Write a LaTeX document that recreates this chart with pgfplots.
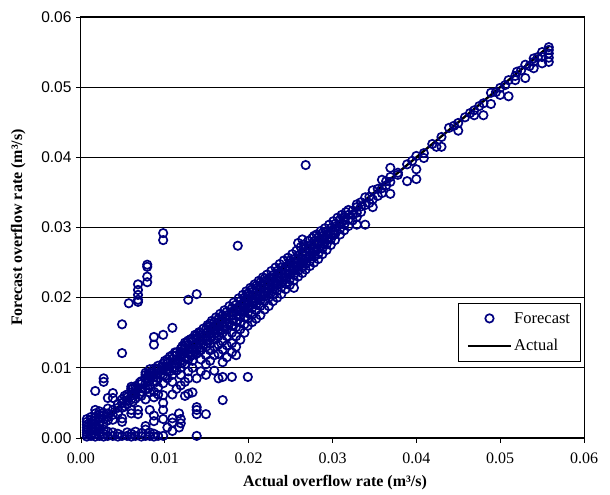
\documentclass[border=0pt]{standalone}
\usepackage{fontspec}
\setmainfont{Liberation Serif}
\newfontfamily\arialfont{Liberation Sans}
\usepackage{pgfplots}
\pgfplotsset{compat=1.18}
\usepackage{pgfplotstable}
\definecolor{navy}{RGB}{0,0,128}

% forecast vs. actual overflow rate (m^3/s)
\pgfplotstableread[row sep=\\]{
x y\\
0.0007 0.0002\\ 0.0007 0.0005\\ 0.0007 0.0008\\ 0.0007 0.0011\\ 0.0007 0.0015\\ 0.0007 0.0019\\ 0.0007 0.0023\\ 0.0007 0.0027\\
0.0012 0.0003\\ 0.0012 0.0006\\ 0.0012 0.0010\\ 0.0012 0.0014\\ 0.0012 0.0018\\ 0.0012 0.0022\\ 0.0012 0.0026\\ 0.0012 0.0030\\
0.0017 0.0002\\ 0.0017 0.0006\\ 0.0017 0.0010\\ 0.0017 0.0015\\ 0.0017 0.0020\\ 0.0017 0.0025\\ 0.0017 0.0030\\ 0.0017 0.0035\\ 0.0017 0.0040\\ 0.0017 0.0067\\
0.0022 0.0003\\ 0.0022 0.0008\\ 0.0022 0.0013\\ 0.0022 0.0018\\ 0.0022 0.0023\\ 0.0022 0.0028\\ 0.0022 0.0033\\ 0.0022 0.0038\\
0.0027 0.0002\\ 0.0027 0.0006\\ 0.0027 0.0012\\ 0.0027 0.0020\\ 0.0027 0.0027\\ 0.0027 0.0032\\ 0.0027 0.0036\\ 0.0027 0.0080\\ 0.0027 0.0085\\
0.0032 0.0003\\ 0.0032 0.0009\\ 0.0032 0.0025\\ 0.0032 0.0030\\ 0.0032 0.0035\\ 0.0032 0.0042\\ 0.0032 0.0057\\
0.0038 0.0003\\ 0.0038 0.0008\\ 0.0038 0.0026\\ 0.0038 0.0033\\ 0.0038 0.0040\\ 0.0038 0.0057\\ 0.0038 0.0064\\
0.0044 0.0002\\ 0.0044 0.0006\\ 0.0044 0.0035\\ 0.0044 0.0043\\ 0.0044 0.0048\\
0.0049 0.0003\\ 0.0049 0.0023\\ 0.0049 0.0028\\ 0.0049 0.0043\\ 0.0049 0.0050\\ 0.0049 0.0055\\ 0.0049 0.0121\\ 0.0049 0.0162\\
0.0052 0.0060\\ 0.0052 0.0045\\
0.0055 0.0003\\ 0.0055 0.0008\\ 0.0055 0.0048\\ 0.0055 0.0053\\ 0.0055 0.0058\\ 0.0055 0.0062\\ 0.0057 0.0192\\
0.0060 0.0002\\ 0.0060 0.0006\\ 0.0060 0.0035\\ 0.0060 0.0040\\ 0.0060 0.0055\\ 0.0060 0.0060\\ 0.0060 0.0065\\ 0.0060 0.0070\\ 0.0060 0.0073\\
0.0062 0.0071\\ 0.0062 0.0052\\
0.0065 0.0003\\ 0.0065 0.0009\\ 0.0065 0.0056\\ 0.0065 0.0062\\ 0.0065 0.0068\\ 0.0065 0.0074\\
0.0068 0.0034\\ 0.0068 0.0040\\ 0.0068 0.0194\\ 0.0068 0.0197\\ 0.0068 0.0204\\ 0.0068 0.0211\\ 0.0068 0.0219\\
0.0070 0.0079\\ 0.0070 0.0062\\
0.0072 0.0002\\ 0.0072 0.0007\\ 0.0072 0.0060\\ 0.0072 0.0066\\ 0.0072 0.0071\\ 0.0072 0.0077\\ 0.0072 0.0081\\
0.0077 0.0003\\ 0.0077 0.0012\\ 0.0077 0.0017\\ 0.0077 0.0055\\ 0.0077 0.0070\\ 0.0077 0.0078\\ 0.0077 0.0085\\ 0.0077 0.0090\\ 0.0077 0.0093\\
0.0079 0.0222\\ 0.0079 0.0230\\ 0.0079 0.0244\\ 0.0079 0.0247\\
0.0080 0.0090\\ 0.0080 0.0070\\
0.0082 0.0003\\ 0.0082 0.0008\\ 0.0082 0.0040\\ 0.0082 0.0065\\ 0.0082 0.0075\\ 0.0082 0.0082\\ 0.0082 0.0088\\ 0.0082 0.0093\\ 0.0082 0.0098\\
0.0087 0.0002\\ 0.0087 0.0006\\ 0.0087 0.0024\\ 0.0087 0.0032\\ 0.0087 0.0058\\ 0.0087 0.0066\\ 0.0087 0.0080\\ 0.0087 0.0087\\ 0.0087 0.0093\\ 0.0087 0.0099\\ 0.0087 0.0133\\ 0.0087 0.0144\\
0.0090 0.0099\\ 0.0090 0.0080\\
0.0092 0.0003\\ 0.0092 0.0062\\ 0.0092 0.0072\\ 0.0092 0.0085\\ 0.0092 0.0092\\ 0.0092 0.0098\\ 0.0092 0.0103\\
0.0098 0.0003\\ 0.0098 0.0027\\ 0.0098 0.0040\\ 0.0098 0.0050\\ 0.0098 0.0061\\ 0.0098 0.0078\\ 0.0098 0.0090\\ 0.0098 0.0097\\ 0.0098 0.0102\\ 0.0098 0.0106\\ 0.0098 0.0147\\ 0.0098 0.0282\\ 0.0098 0.0292\\
0.0100 0.0110\\ 0.0100 0.0088\\
0.0103 0.0015\\ 0.0103 0.0085\\ 0.0103 0.0095\\ 0.0103 0.0102\\ 0.0103 0.0108\\ 0.0103 0.0112\\
0.0106 0.0116\\ 0.0106 0.0095\\
0.0109 0.0010\\ 0.0109 0.0022\\ 0.0109 0.0028\\ 0.0109 0.0062\\ 0.0109 0.0080\\ 0.0109 0.0090\\ 0.0109 0.0100\\ 0.0109 0.0107\\ 0.0109 0.0113\\ 0.0109 0.0118\\ 0.0109 0.0157\\
0.0112 0.0122\\ 0.0112 0.0100\\
0.0114 0.0070\\ 0.0114 0.0096\\ 0.0114 0.0105\\ 0.0114 0.0112\\ 0.0114 0.0118\\ 0.0114 0.0122\\
0.0117 0.0015\\ 0.0117 0.0035\\
0.0119 0.0021\\ 0.0119 0.0027\\ 0.0119 0.0075\\ 0.0119 0.0090\\ 0.0119 0.0100\\ 0.0119 0.0110\\ 0.0119 0.0117\\ 0.0119 0.0123\\ 0.0119 0.0127\\
0.0121 0.0131\\ 0.0121 0.0108\\
0.0124 0.0060\\ 0.0124 0.0080\\ 0.0124 0.0105\\ 0.0124 0.0115\\ 0.0124 0.0122\\ 0.0124 0.0128\\ 0.0124 0.0132\\ 0.0124 0.0136\\
0.0126 0.0136\\ 0.0126 0.0113\\
0.0128 0.0063\\ 0.0128 0.0085\\ 0.0128 0.0095\\ 0.0128 0.0112\\ 0.0128 0.0120\\ 0.0128 0.0127\\ 0.0128 0.0133\\ 0.0128 0.0139\\ 0.0128 0.0197\\
0.0131 0.0141\\ 0.0131 0.0118\\
0.0133 0.0065\\ 0.0133 0.0100\\ 0.0133 0.0110\\ 0.0133 0.0118\\ 0.0133 0.0125\\ 0.0133 0.0132\\ 0.0133 0.0137\\ 0.0133 0.0142\\
0.0136 0.0147\\ 0.0136 0.0123\\
0.0138 0.0003\\ 0.0138 0.0034\\ 0.0138 0.0040\\ 0.0138 0.0044\\ 0.0138 0.0085\\ 0.0138 0.0120\\ 0.0138 0.0128\\ 0.0138 0.0135\\ 0.0138 0.0141\\ 0.0138 0.0146\\ 0.0138 0.0205\\
0.0141 0.0151\\ 0.0141 0.0128\\
0.0143 0.0095\\ 0.0143 0.0112\\ 0.0143 0.0125\\ 0.0143 0.0133\\ 0.0143 0.0140\\ 0.0143 0.0146\\ 0.0143 0.0150\\
0.0146 0.0156\\ 0.0146 0.0133\\
0.0149 0.0034\\ 0.0149 0.0090\\ 0.0149 0.0105\\ 0.0149 0.0118\\ 0.0149 0.0130\\ 0.0149 0.0138\\ 0.0149 0.0145\\ 0.0149 0.0150\\ 0.0149 0.0155\\
0.0151 0.0161\\ 0.0151 0.0139\\
0.0154 0.0110\\ 0.0154 0.0125\\ 0.0154 0.0135\\ 0.0154 0.0143\\ 0.0154 0.0150\\ 0.0154 0.0155\\ 0.0154 0.0159\\ 0.0154 0.0163\\
0.0156 0.0167\\ 0.0156 0.0144\\
0.0159 0.0096\\ 0.0159 0.0118\\ 0.0159 0.0130\\ 0.0159 0.0140\\ 0.0159 0.0148\\ 0.0159 0.0155\\ 0.0159 0.0160\\ 0.0159 0.0165\\
0.0161 0.0172\\ 0.0161 0.0149\\
0.0164 0.0085\\ 0.0164 0.0120\\ 0.0164 0.0133\\ 0.0164 0.0145\\ 0.0164 0.0153\\ 0.0164 0.0160\\ 0.0164 0.0165\\ 0.0164 0.0170\\
0.0166 0.0177\\ 0.0166 0.0153\\
0.0169 0.0054\\ 0.0169 0.0087\\ 0.0169 0.0108\\ 0.0169 0.0126\\ 0.0169 0.0138\\ 0.0169 0.0150\\ 0.0169 0.0158\\ 0.0169 0.0165\\ 0.0169 0.0170\\ 0.0169 0.0175\\
0.0171 0.0182\\ 0.0171 0.0158\\
0.0174 0.0115\\ 0.0174 0.0132\\ 0.0174 0.0145\\ 0.0174 0.0155\\ 0.0174 0.0163\\ 0.0174 0.0170\\ 0.0174 0.0175\\ 0.0174 0.0180\\
0.0177 0.0188\\ 0.0177 0.0164\\
0.0180 0.0087\\ 0.0180 0.0122\\ 0.0180 0.0135\\ 0.0180 0.0150\\ 0.0180 0.0160\\ 0.0180 0.0168\\ 0.0180 0.0175\\ 0.0180 0.0180\\ 0.0180 0.0185\\
0.0182 0.0193\\ 0.0182 0.0169\\
0.0185 0.0118\\ 0.0185 0.0130\\ 0.0185 0.0145\\ 0.0185 0.0158\\ 0.0185 0.0166\\ 0.0185 0.0174\\ 0.0185 0.0180\\ 0.0185 0.0185\\ 0.0185 0.0190\\
0.0187 0.0274\\
0.0188 0.0199\\ 0.0188 0.0175\\
0.0190 0.0140\\ 0.0190 0.0155\\ 0.0190 0.0165\\ 0.0190 0.0173\\ 0.0190 0.0180\\ 0.0190 0.0186\\ 0.0190 0.0190\\ 0.0190 0.0195\\
0.0193 0.0204\\ 0.0193 0.0180\\
0.0195 0.0150\\ 0.0195 0.0162\\ 0.0195 0.0172\\ 0.0195 0.0180\\ 0.0195 0.0186\\ 0.0195 0.0192\\ 0.0195 0.0196\\ 0.0195 0.0200\\
0.0197 0.0209\\ 0.0197 0.0184\\
0.0199 0.0087\\ 0.0199 0.0160\\ 0.0199 0.0170\\ 0.0199 0.0178\\ 0.0199 0.0186\\ 0.0199 0.0192\\ 0.0199 0.0197\\ 0.0199 0.0202\\ 0.0199 0.0206\\
0.0202 0.0214\\ 0.0202 0.0189\\
0.0204 0.0165\\ 0.0204 0.0176\\ 0.0204 0.0185\\ 0.0204 0.0193\\ 0.0204 0.0198\\ 0.0204 0.0203\\ 0.0204 0.0208\\ 0.0204 0.0212\\
0.0207 0.0219\\ 0.0207 0.0194\\
0.0209 0.0170\\ 0.0209 0.0182\\ 0.0209 0.0190\\ 0.0209 0.0198\\ 0.0209 0.0203\\ 0.0209 0.0208\\ 0.0209 0.0213\\ 0.0209 0.0217\\
0.0212 0.0224\\ 0.0212 0.0199\\
0.0214 0.0175\\ 0.0214 0.0188\\ 0.0214 0.0196\\ 0.0214 0.0203\\ 0.0214 0.0208\\ 0.0214 0.0213\\ 0.0214 0.0218\\ 0.0214 0.0222\\
0.0217 0.0229\\ 0.0217 0.0204\\
0.0219 0.0183\\ 0.0219 0.0195\\ 0.0219 0.0202\\ 0.0219 0.0208\\ 0.0219 0.0213\\ 0.0219 0.0218\\ 0.0219 0.0223\\ 0.0219 0.0227\\
0.0222 0.0233\\ 0.0222 0.0209\\
0.0224 0.0188\\ 0.0224 0.0200\\ 0.0224 0.0207\\ 0.0224 0.0213\\ 0.0224 0.0218\\ 0.0224 0.0223\\ 0.0224 0.0228\\
0.0227 0.0238\\ 0.0227 0.0214\\
0.0229 0.0195\\ 0.0229 0.0205\\ 0.0229 0.0212\\ 0.0229 0.0218\\ 0.0229 0.0223\\ 0.0229 0.0228\\ 0.0229 0.0232\\
0.0232 0.0243\\ 0.0232 0.0219\\
0.0234 0.0200\\ 0.0234 0.0210\\ 0.0234 0.0218\\ 0.0234 0.0224\\ 0.0234 0.0229\\ 0.0234 0.0234\\ 0.0234 0.0238\\
0.0237 0.0248\\ 0.0237 0.0224\\
0.0239 0.0205\\ 0.0239 0.0215\\ 0.0239 0.0222\\ 0.0239 0.0228\\ 0.0239 0.0234\\ 0.0239 0.0239\\ 0.0239 0.0243\\
0.0242 0.0253\\ 0.0242 0.0229\\
0.0244 0.0212\\ 0.0244 0.0220\\ 0.0244 0.0228\\ 0.0244 0.0234\\ 0.0244 0.0239\\ 0.0244 0.0244\\
0.0247 0.0257\\ 0.0247 0.0234\\
0.0249 0.0218\\ 0.0249 0.0226\\ 0.0249 0.0233\\ 0.0249 0.0239\\ 0.0249 0.0244\\ 0.0249 0.0249\\ 0.0249 0.0253\\
0.0252 0.0262\\ 0.0252 0.0239\\
0.0254 0.0214\\ 0.0254 0.0225\\ 0.0254 0.0232\\ 0.0254 0.0240\\ 0.0254 0.0245\\ 0.0254 0.0250\\ 0.0254 0.0255\\
0.0257 0.0267\\ 0.0257 0.0244\\
0.0259 0.0230\\ 0.0259 0.0238\\ 0.0259 0.0245\\ 0.0259 0.0250\\ 0.0259 0.0255\\ 0.0259 0.0260\\ 0.0259 0.0278\\
0.0262 0.0272\\ 0.0262 0.0249\\
0.0264 0.0235\\ 0.0264 0.0243\\ 0.0264 0.0250\\ 0.0264 0.0256\\ 0.0264 0.0261\\ 0.0264 0.0265\\ 0.0264 0.0283\\
0.0266 0.0276\\ 0.0266 0.0253\\
0.0268 0.0240\\ 0.0268 0.0248\\ 0.0268 0.0255\\ 0.0268 0.0260\\ 0.0268 0.0265\\ 0.0268 0.0270\\ 0.0268 0.0389\\
0.0271 0.0281\\ 0.0271 0.0258\\
0.0273 0.0245\\ 0.0273 0.0252\\ 0.0273 0.0260\\ 0.0273 0.0265\\ 0.0273 0.0270\\ 0.0273 0.0274\\
0.0276 0.0285\\ 0.0276 0.0263\\
0.0278 0.0250\\ 0.0278 0.0258\\ 0.0278 0.0265\\ 0.0278 0.0270\\ 0.0278 0.0276\\ 0.0278 0.0280\\ 0.0278 0.0288\\
0.0281 0.0290\\ 0.0281 0.0268\\
0.0283 0.0255\\ 0.0283 0.0262\\ 0.0283 0.0270\\ 0.0283 0.0276\\ 0.0283 0.0281\\ 0.0283 0.0286\\
0.0286 0.0295\\ 0.0286 0.0273\\
0.0288 0.0262\\ 0.0288 0.0270\\ 0.0288 0.0277\\ 0.0288 0.0283\\ 0.0288 0.0288\\ 0.0288 0.0292\\
0.0291 0.0299\\ 0.0291 0.0279\\
0.0293 0.0268\\ 0.0293 0.0276\\ 0.0293 0.0283\\ 0.0293 0.0289\\ 0.0293 0.0294\\
0.0296 0.0304\\ 0.0296 0.0284\\
0.0298 0.0275\\ 0.0298 0.0283\\ 0.0298 0.0290\\ 0.0298 0.0295\\ 0.0298 0.0299\\
0.0301 0.0309\\ 0.0301 0.0290\\
0.0303 0.0282\\ 0.0303 0.0290\\ 0.0303 0.0296\\ 0.0303 0.0301\\ 0.0303 0.0305\\
0.0306 0.0314\\
0.0309 0.0290\\ 0.0309 0.0298\\ 0.0309 0.0305\\ 0.0309 0.0311\\
0.0311 0.0318\\
0.0314 0.0296\\ 0.0314 0.0304\\ 0.0314 0.0310\\ 0.0314 0.0315\\
0.0316 0.0322\\
0.0319 0.0302\\ 0.0319 0.0311\\ 0.0319 0.0318\\ 0.0319 0.0325\\
0.0324 0.0310\\ 0.0324 0.0318\\ 0.0324 0.0324\\
0.0329 0.0304\\ 0.0329 0.0315\\ 0.0329 0.0321\\ 0.0329 0.0329\\ 0.0329 0.0333\\
0.0334 0.0322\\ 0.0334 0.0330\\ 0.0334 0.0336\\
0.0339 0.0304\\ 0.0339 0.0332\\ 0.0339 0.0343\\
0.0344 0.0335\\ 0.0344 0.0344\\
0.0348 0.0329\\ 0.0348 0.0340\\ 0.0348 0.0353\\
0.0354 0.0345\\ 0.0354 0.0355\\
0.0359 0.0349\\ 0.0359 0.0356\\ 0.0359 0.0368\\
0.0364 0.0360\\ 0.0364 0.0366\\
0.0369 0.0348\\ 0.0369 0.0365\\ 0.0369 0.0372\\ 0.0369 0.0385\\
0.0378 0.0375\\ 0.0378 0.0378\\
0.0389 0.0366\\ 0.0389 0.0390\\
0.0395 0.0395\\
0.0400 0.0369\\ 0.0400 0.0383\\ 0.0400 0.0402\\
0.0409 0.0399\\ 0.0409 0.0406\\
0.0419 0.0419\\
0.0424 0.0415\\
0.0430 0.0415\\ 0.0430 0.0429\\
0.0439 0.0442\\
0.0445 0.0445\\
0.0450 0.0438\\ 0.0450 0.0449\\
0.0458 0.0457\\
0.0464 0.0463\\
0.0469 0.0460\\ 0.0469 0.0467\\
0.0475 0.0473\\
0.0480 0.0460\\ 0.0480 0.0477\\
0.0489 0.0476\\ 0.0489 0.0492\\
0.0495 0.0493\\
0.0500 0.0489\\ 0.0500 0.0499\\
0.0506 0.0503\\
0.0510 0.0487\\ 0.0510 0.0510\\
0.0518 0.0510\\ 0.0518 0.0516\\
0.0520 0.0522\\
0.0525 0.0524\\
0.0530 0.0513\\ 0.0530 0.0532\\
0.0535 0.0530\\
0.0540 0.0527\\ 0.0540 0.0536\\ 0.0540 0.0541\\
0.0545 0.0543\\
0.0550 0.0534\\ 0.0550 0.0543\\ 0.0550 0.0550\\
0.0558 0.0536\\ 0.0558 0.0542\\ 0.0558 0.0548\\ 0.0558 0.0553\\ 0.0558 0.0557\\
}\forecast

\begin{document}
\begin{tikzpicture}
\begin{axis}[
  name=ax,
  scale only axis,
  width=503bp, height=421bp,
  xmin=0, xmax=0.06, ymin=0, ymax=0.06,
  xtick={0,0.01,0.02,0.03,0.04,0.05,0.06},
  ytick={0,0.01,0.02,0.03,0.04,0.05,0.06},
  scaled ticks=false,
  /pgf/number format/fixed,
  /pgf/number format/fixed zerofill,
  /pgf/number format/precision=2,
  /pgf/number format/assume math mode=true,
  xticklabel style={font=\fontsize{16bp}{19bp}\selectfont, yshift=-6bp},
  yticklabel style={font=\arialfont\fontsize{15.5bp}{18bp}\selectfont, xshift=-1bp},
  tick align=outside,
  xtick pos=bottom, ytick pos=left,
  major tick length=5bp,
  tick style={black, line width=0.8bp},
  axis line style={black, line width=1bp},
  ymajorgrids,
  grid style={black, line width=0.8bp},
  xlabel={Actual overflow rate (m³/s)},
  ylabel={Forecast overflow rate (m³/s)},
  every axis x label/.style={at={(axis description cs:0.505,-0.107)}, anchor=center,
    font=\bfseries\fontsize{16bp}{19bp}\selectfont},
  every axis y label/.style={at={(axis description cs:-0.125,0.5)}, anchor=center, rotate=90,
    font=\bfseries\fontsize{16bp}{19bp}\selectfont},
  legend style={
    at={(axis description cs:0.993,0.321)}, anchor=north east,
    draw=black, line width=0.8bp, fill=white,
    font=\fontsize{16.5bp}{19bp}\selectfont,
    row sep=11bp, inner xsep=8bp, inner ysep=7bp,
    nodes={inner xsep=2bp},
  },
  legend cell align=left,
  legend image code/.code={%
    \draw[mark repeat=2,mark phase=2,#1]
      plot coordinates {(0bp,0bp) (21.5bp,0bp) (43bp,0bp)};},
]
\addplot[only marks, mark=o, mark size=4.2bp, draw=navy,
  mark options={line width=1.7bp}] table {\forecast};
\addlegendentry{Forecast}
\addplot[black, line width=2.4bp, no marks]
  coordinates {(0.0020,0.0020) (0.0558,0.0558)};
\addlegendentry{Actual}
\end{axis}
\pgfresetboundingbox
\path ([shift={(-81bp,-57bp)}]ax.south west) rectangle ([shift={(26bp,17bp)}]ax.north east);
\end{tikzpicture}
\end{document}
